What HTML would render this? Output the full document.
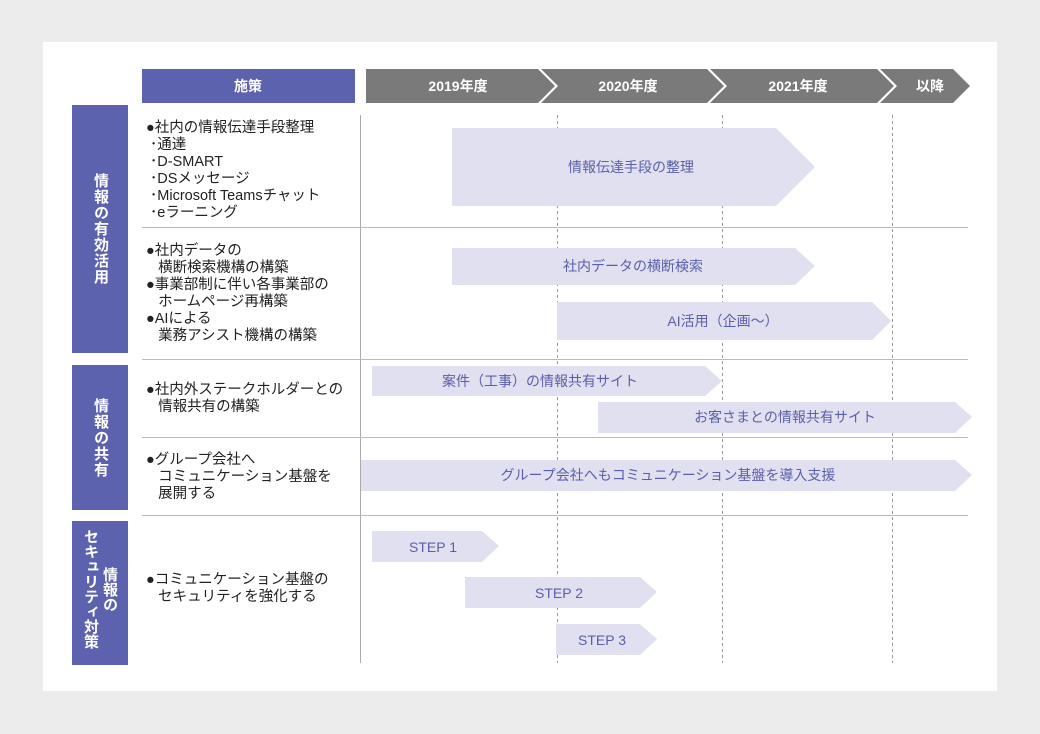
<!DOCTYPE html>
<html><head><meta charset="utf-8"><style>
body{margin:0;width:1040px;height:734px;background:#ececec;font-family:"Liberation Sans","Noto Sans CJK JP",sans-serif;overflow:hidden;position:relative}
.panel{position:absolute;left:43px;top:42px;width:954px;height:649px;background:#fff}
svg{position:absolute;left:0;top:0}
.t{font-family:"Liberation Sans","Noto Sans CJK JP",sans-serif}
.cat{position:absolute;background:#5c62ad;color:#fff;font-weight:bold;font-size:15px;line-height:20px;text-align:center;width:56px;left:72px;display:flex;align-items:center;justify-content:center}
.cat .v{writing-mode:vertical-rl;text-orientation:upright;letter-spacing:1px}
.item{position:absolute;left:146px;font-size:14.5px;line-height:17px;color:#222;white-space:nowrap}
</style></head><body>
<div class="panel"></div>
<svg width="1040" height="734">
<rect x="142" y="69" width="213" height="34" fill="#5c62ad"/>
<text x="248" y="91" class="t" font-size="14" font-weight="bold" fill="#fff" text-anchor="middle">施策</text>
<g fill="#7a7a7a">
<polygon points="366,69 538,69 555,86 538,103 366,103"/>
<polygon points="541,69 707,69 724,86 707,103 541,103 558,86"/>
<polygon points="710,69 877,69 894,86 877,103 710,103 727,86"/>
<polygon points="880,69 953,69 970,86 953,103 880,103 897,86"/>
</g>
<g class="t" font-size="14" font-weight="bold" fill="#fff" text-anchor="middle">
<text x="458" y="91">2019年度</text><text x="628" y="91">2020年度</text><text x="798" y="91">2021年度</text><text x="930" y="91">以降</text>
</g>
<g stroke="#999" stroke-width="1" stroke-dasharray="3,3">
<line x1="557.5" y1="115" x2="557.5" y2="663"/><line x1="722.5" y1="115" x2="722.5" y2="663"/><line x1="892.5" y1="115" x2="892.5" y2="663"/>
</g>
<line x1="360.5" y1="115" x2="360.5" y2="663" stroke="#aaa"/>
<g stroke="#bbb"><line x1="142" y1="227.5" x2="968" y2="227.5"/><line x1="142" y1="359.5" x2="968" y2="359.5"/><line x1="142" y1="437.5" x2="968" y2="437.5"/><line x1="142" y1="515.5" x2="968" y2="515.5"/></g>
<g fill="#e0e0f0">
<polygon points="452,128 776,128 815,167 776,206 452,206"/>
<polygon points="452,248 795,248 815,266 795,285 452,285"/>
<polygon points="557,302 872,302 891,321 872,340 557,340"/>
<polygon points="372,366 705,366 722,381 705,396 372,396"/>
<polygon points="598,402 955,402 972,417 955,433 598,433"/>
<polygon points="361,460 955,460 972,475 955,491 361,491"/>
<polygon points="372,531 482,531 499,546 482,562 372,562"/>
<polygon points="465,577 640,577 657,592 640,608 465,608"/>
<polygon points="556,624 640,624 657,639 640,655 556,655"/>
</g>
<g class="t" font-size="14" fill="#5a5fa8" text-anchor="middle">
<text x="631" y="172">情報伝達手段の整理</text>
<text x="633" y="271">社内データの横断検索</text>
<text x="723" y="326">AI活用（企画〜）</text>
<text x="540" y="386">案件（工事）の情報共有サイト</text>
<text x="785" y="422">お客さまとの情報共有サイト</text>
<text x="668" y="480">グループ会社へもコミュニケーション基盤を導入支援</text>
<text x="433" y="552">STEP 1</text>
<text x="559" y="598">STEP 2</text>
<text x="602" y="645">STEP 3</text>
</g>
</svg>
<div class="cat" style="top:105px;height:248px"><span class="v">情報の有効活用</span></div>
<div class="cat" style="top:365px;height:145px"><span class="v">情報の共有</span></div>
<div class="cat" style="top:521px;height:144px;align-items:flex-start;padding-top:8px;box-sizing:border-box"><span class="v" style="letter-spacing:0;line-height:19px">情報の<br>セキュリティ対策</span></div>
<div class="item" style="top:120px">●社内の情報伝達手段整理<br>&nbsp;･通達<br>&nbsp;･D-SMART<br>&nbsp;･DSメッセージ<br>&nbsp;･Microsoft Teamsチャット<br>&nbsp;･eラーニング</div>
<div class="item" style="top:243px">●社内データの<br>&nbsp;&nbsp;&nbsp;横断検索機構の構築<br>●事業部制に伴い各事業部の<br>&nbsp;&nbsp;&nbsp;ホームページ再構築<br>●AIによる<br>&nbsp;&nbsp;&nbsp;業務アシスト機構の構築</div>
<div class="item" style="top:382px">●社内外ステークホルダーとの<br>&nbsp;&nbsp;&nbsp;情報共有の構築</div>
<div class="item" style="top:452px">●グループ会社へ<br>&nbsp;&nbsp;&nbsp;コミュニケーション基盤を<br>&nbsp;&nbsp;&nbsp;展開する</div>
<div class="item" style="top:572px">●コミュニケーション基盤の<br>&nbsp;&nbsp;&nbsp;セキュリティを強化する</div>
</body></html>
